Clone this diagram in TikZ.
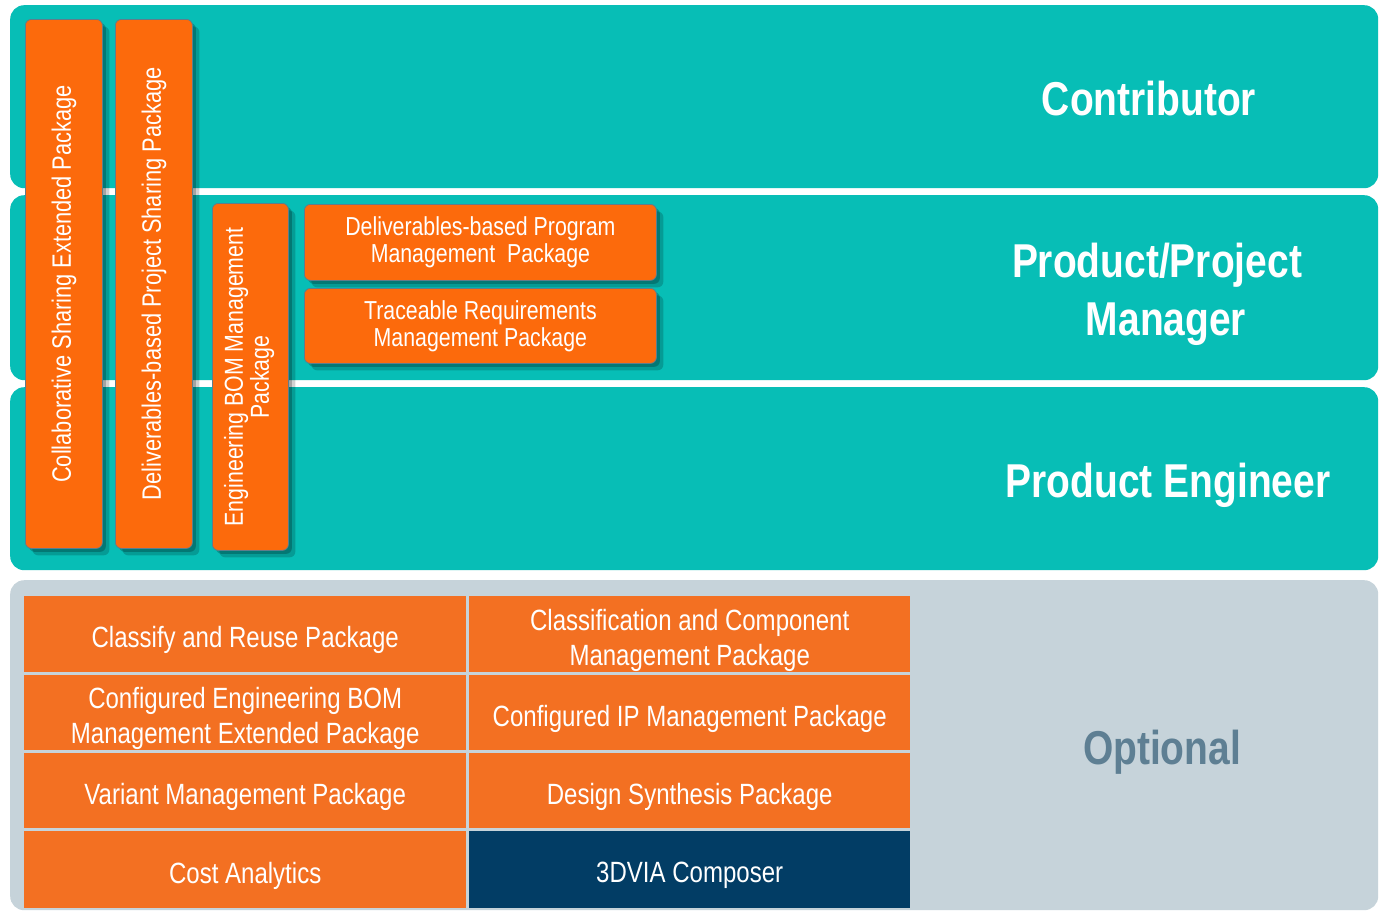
\documentclass[tikz,border=0pt]{standalone}
\usepackage{fontspec}
\setmainfont{Liberation Sans}[FakeStretch=0.82]
\usepackage{graphicx}
\usetikzlibrary{shadows}
\definecolor{tealbg}{HTML}{07BEB6}
\definecolor{barorange}{HTML}{FC6A0C}
\definecolor{taborange}{HTML}{F37022}
\definecolor{navy}{HTML}{023D65}
\definecolor{greybg}{HTML}{C6D3DA}
\definecolor{barline}{HTML}{5F7D8C}
\definecolor{opttext}{HTML}{5E7F93}
\begin{document}
\begin{tikzpicture}[x=1pt,y=-1pt,
  band/.style={rectangle, rounded corners=14pt, fill=tealbg, draw=none, anchor=north west, inner sep=0pt},
  optband/.style={band, fill=greybg},
  pkg/.style={rectangle, rounded corners=6pt, fill=barorange, draw=barline, line width=0.8pt,
    anchor=north west, inner sep=0pt, text=white, align=center,
    font=\fontsize{26}{27}\selectfont,
    drop shadow={shadow xshift=7pt, shadow yshift=-7pt, opacity=0.18, fill=black},
    drop shadow={shadow xshift=3.5pt, shadow yshift=-3.5pt, opacity=0.22, fill=black}},
  vpkg/.style={pkg, font=\fontsize{26.6}{27}\selectfont},
  cell/.style={rectangle, fill=taborange, draw=none, anchor=north west, inner sep=0pt},
  celltext/.style={text=white, align=center, inner sep=0pt, font=\fontsize{29.3}{35}\selectfont},
  head/.style={text=white, align=center, font=\bfseries\fontsize{47.5}{58}\selectfont}
]
\useasboundingbox (0,0) rectangle (1380,911);
\fill[white] (0,0) rectangle (1380,911);

% bands
\node[band, minimum width=1368pt, minimum height=183pt] (contrib) at (10,5) {};
\node[band, minimum width=1368pt, minimum height=185pt] (ppm) at (10,195) {};
\node[band, minimum width=1368pt, minimum height=183pt] (pe) at (10,387) {};
\node[optband, minimum width=1368pt, minimum height=330pt] (opt) at (10,580) {};

% labels
\node[head] (lcontrib) at (1149,99) {Contributor};
\node[head] (lppm) at (1157,294) {Product/Project\\\hspace*{18pt}Manager};
\node[head] (lpe) at (1168,485) {Product Engineer};
\node[head, text=opttext] (lopt) at (1162,752) {Optional};

% vertical packages
\node[vpkg, minimum width=77pt, minimum height=529pt] (csep) at (25,19)
  {\rotatebox{90}{Collaborative Sharing Extended Package}};
\node[vpkg, minimum width=77pt, minimum height=529pt] (dpsp) at (115,19)
  {\rotatebox{90}{Deliverables-based Project Sharing Package}};
\node[pkg, minimum width=76pt, minimum height=347pt] (ebom) at (212,203)
  {\rotatebox{90}{\begin{tabular}{@{}c@{}}Engineering BOM Management\\[-1pt]Package\end{tabular}}};

% horizontal packages
\node[pkg, minimum width=352pt, minimum height=76pt] (dpmp) at (304,204)
  {Deliverables-based Program\\Management\ \ Package};
\node[pkg, minimum width=352pt, minimum height=75pt] (trmp) at (304,288)
  {Traceable Requirements\\Management Package};

% optional table
\node[cell, minimum width=442pt, minimum height=76pt] (c11) at (24,596) {};
\node[cell, minimum width=441pt, minimum height=76pt] (c12) at (469,596) {};
\node[cell, minimum width=442pt, minimum height=75pt] (c21) at (24,675) {};
\node[cell, minimum width=441pt, minimum height=75pt] (c22) at (469,675) {};
\node[cell, minimum width=442pt, minimum height=75pt] (c31) at (24,753) {};
\node[cell, minimum width=441pt, minimum height=75pt] (c32) at (469,753) {};
\node[cell, minimum width=442pt, minimum height=77pt] (c41) at (24,831) {};
\node[cell, fill=navy, minimum width=441pt, minimum height=77pt] (c42) at (469,831) {};

\node[celltext] (t11) at ([yshift=-6pt]c11.center) {Classify and Reuse Package};
\node[celltext] (t12) at ([yshift=-6pt]c12.center) {Classification and Component\\Management Package};
\node[celltext] (t21) at ([yshift=-6pt]c21.center) {Configured Engineering BOM\\Management Extended Package};
\node[celltext] (t22) at ([yshift=-6pt]c22.center) {Configured IP Management Package};
\node[celltext] (t31) at ([yshift=-6pt]c31.center) {Variant Management Package};
\node[celltext] (t32) at ([yshift=-6pt]c32.center) {Design Synthesis Package};
\node[celltext] (t41) at ([yshift=-6pt]c41.center) {Cost Analytics};
\node[celltext] (t42) at ([yshift=-6pt]c42.center) {3DVIA Composer};
\end{tikzpicture}
\end{document}
